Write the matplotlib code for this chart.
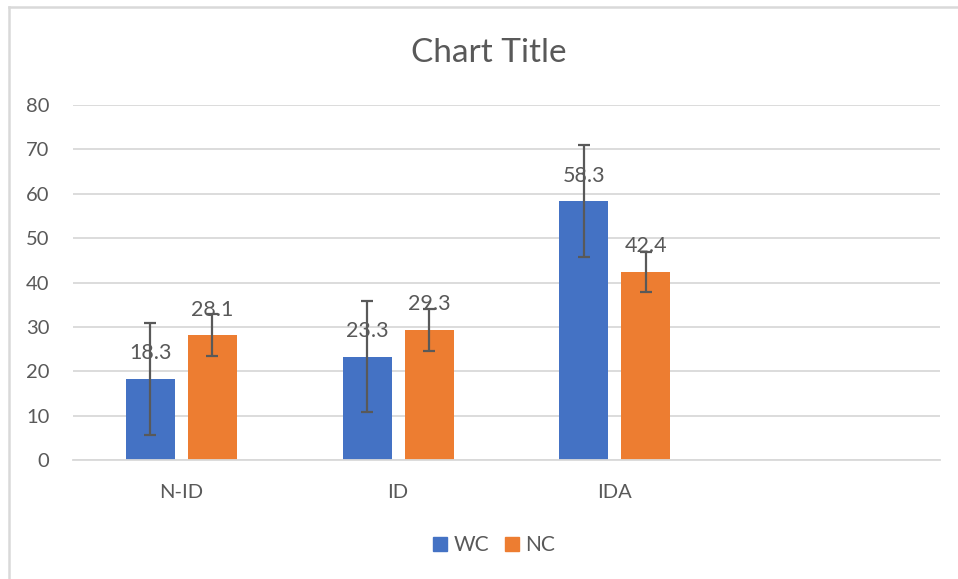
import matplotlib
matplotlib.use('Agg')
import matplotlib.pyplot as plt
from matplotlib.lines import Line2D
import numpy as np

categories = ['N-ID', 'ID', 'IDA', '']
wc = [18.3, 23.3, 58.3]
nc = [28.1, 29.3, 42.4]
wc_err = [12.6, 12.5, 12.6]
nc_err = [4.7, 4.7, 4.5]

text_col = '#595959'
grid_col = '#d9d9d9'
plt.rcParams['font.family'] = ['Lato', 'DejaVu Sans']

fig = plt.figure(figsize=(9.58, 5.79), dpi=100)
ax = fig.add_axes([73 / 958, 1 - 460 / 579, 867 / 958, 355 / 579])

x = np.arange(len(categories[:3]))
w = 0.225
off = 0.143
b1 = ax.bar(x - off, wc, w, color='#4472C4', label='WC', zorder=2)
b2 = ax.bar(x + off, nc, w, color='#ED7D31', label='NC', zorder=2)
ax.errorbar(x - off, wc, yerr=wc_err, fmt='none', ecolor='#595959',
            elinewidth=1.6, capsize=4.5, capthick=1.6, zorder=3)
ax.errorbar(x + off, nc, yerr=nc_err, fmt='none', ecolor='#595959',
            elinewidth=1.6, capsize=4.5, capthick=1.6, zorder=3)

for bars in (b1, b2):
    for rect in bars:
        h = rect.get_height()
        ax.annotate(f'{h:.1f}', (rect.get_x() + rect.get_width() / 2, h),
                    xytext=(0, 18.5), textcoords='offset points',
                    ha='center', va='center', fontsize=15.5, color=text_col, zorder=4)

ax.set_xlim(-0.5, len(categories) - 0.5)
ax.set_ylim(0, 80)
ax.set_yticks(range(0, 81, 10))
ax.set_xticks(range(len(categories)))
ax.set_xticklabels(categories)
ax.yaxis.grid(True, color=grid_col, linewidth=1.3, zorder=0)
ax.set_axisbelow(True)
for s in ['top', 'right', 'left']:
    ax.spines[s].set_visible(False)
ax.spines['bottom'].set_color(grid_col)
ax.spines['bottom'].set_linewidth(1.3)
ax.tick_params(axis='y', length=0, pad=17, labelsize=14.5, labelcolor=text_col)
ax.tick_params(axis='x', length=0, pad=17, labelsize=14.5, labelcolor=text_col)

fig.text(489 / 958, 1 - 53 / 579, 'Chart Title', ha='center', va='center',
         fontsize=24, color=text_col)

handles = [Line2D([], [], marker='s', linestyle='none', markersize=10,
                  color=c) for c in ('#4472C4', '#ED7D31')]
fig.legend(handles, ['WC', 'NC'], loc='center', bbox_to_anchor=(493 / 958, 1 - 545 / 579),
           ncol=2, frameon=False, fontsize=15, labelcolor=text_col,
           handletextpad=0.2, columnspacing=0.6, handlelength=0.9)

# outer chart border (left and top visible)
fig.add_artist(Line2D([9 / 958, 9 / 958], [0, 1 - 7 / 579], color=grid_col, linewidth=1.8))
fig.add_artist(Line2D([9 / 958, 1], [1 - 7 / 579, 1 - 7 / 579], color=grid_col, linewidth=1.8))

fig.savefig('out.png', dpi=100)
